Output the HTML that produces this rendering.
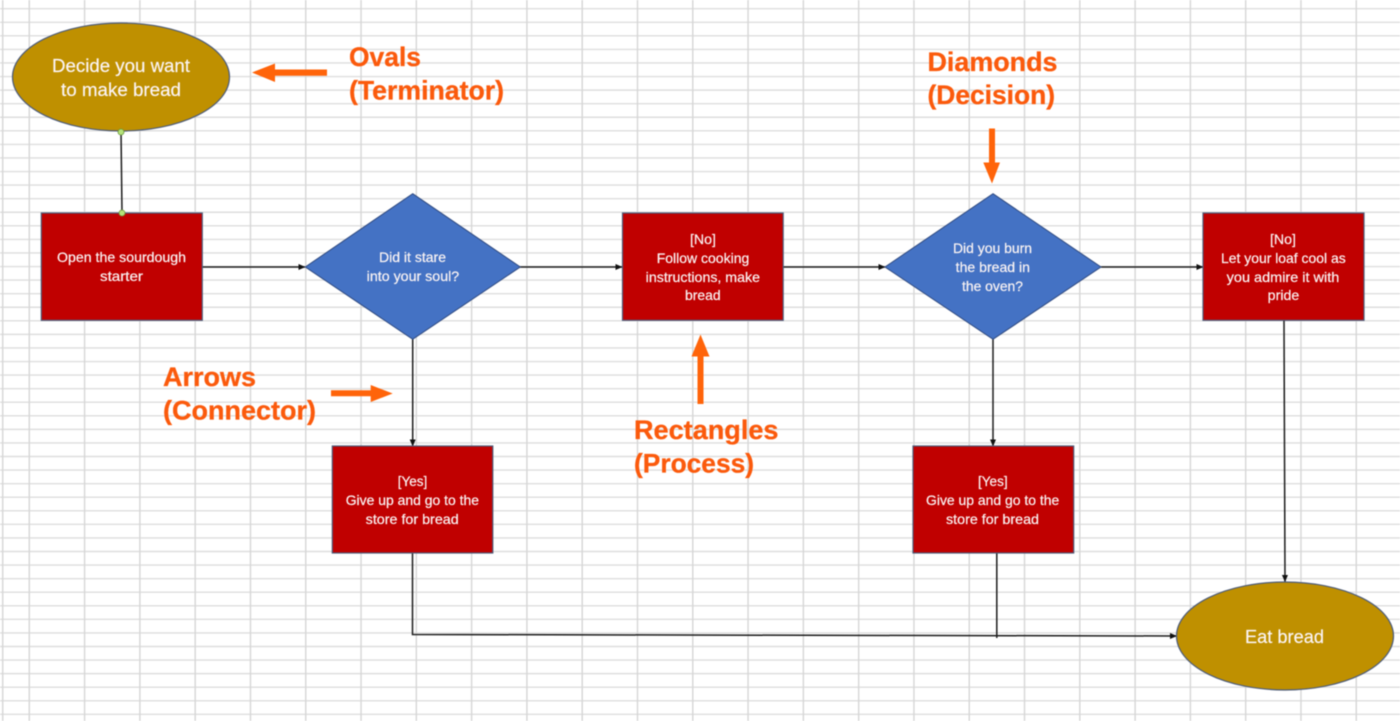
<!DOCTYPE html>
<html lang="en">
<head>
<meta charset="utf-8">
<title>Flowchart</title>
<style>
html,body{margin:0;padding:0;background:#fff;width:1400px;height:721px;overflow:hidden}
svg{display:block;filter:blur(.4px)}
.w{fill:#fbf4f4;stroke:#fbf4f4;stroke-width:.2px;font-family:"Liberation Sans",sans-serif}
.s{font-size:14px}
.l{font-size:18.5px}
.o{fill:#fb5a0c;stroke:#fb5a0c;stroke-width:.3px;font-family:"Liberation Sans",sans-serif;font-weight:bold;font-size:27px}
</style>
</head>
<body>
<svg xmlns="http://www.w3.org/2000/svg" width="1400" height="721" viewBox="0 0 1400 721">
<defs>
<marker id="a" markerWidth="7" markerHeight="6" refX="6.5" refY="3" orient="auto" markerUnits="userSpaceOnUse"><path d="M0 0L7 3L0 6Z" fill="#111"/></marker>
</defs>
<rect width="1400" height="721" fill="#fff"/>
<path fill="none" stroke="#dedede" stroke-width="1.4" d="M0 8.7H1400M0 22.27H1400M0 35.84H1400M0 49.41H1400M0 62.98H1400M0 76.55H1400M0 90.12H1400M0 103.69H1400M0 117.26H1400M0 130.83H1400M0 144.4H1400M0 157.97H1400M0 171.54H1400M0 185.11H1400M0 198.68H1400M0 212.25H1400M0 225.82H1400M0 239.39H1400M0 252.96H1400M0 266.53H1400M0 280.1H1400M0 293.67H1400M0 307.24H1400M0 320.81H1400M0 334.38H1400M0 347.95H1400M0 361.52H1400M0 375.09H1400M0 388.66H1400M0 402.23H1400M0 415.8H1400M0 429.37H1400M0 442.94H1400M0 456.51H1400M0 470.08H1400M0 483.65H1400M0 497.22H1400M0 510.79H1400M0 524.36H1400M0 537.93H1400M0 551.5H1400M0 565.07H1400M0 578.64H1400M0 592.21H1400M0 605.78H1400M0 619.35H1400M0 632.92H1400M0 646.49H1400M0 660.06H1400M0 673.63H1400M0 687.2H1400M0 700.77H1400M0 714.34H1400"/>
<path fill="none" stroke="#d6d6d6" stroke-width="1.4" d="M2.7 0V721M29.3 0V721M84.59 0V721M139.88 0V721M195.17 0V721M250.46 0V721M305.75 0V721M361.04 0V721M416.33 0V721M471.62 0V721M526.91 0V721M582.2 0V721M637.49 0V721M692.78 0V721M748.07 0V721M803.36 0V721M858.65 0V721M913.94 0V721M969.23 0V721M1024.52 0V721M1079.81 0V721M1135.1 0V721M1190.39 0V721M1245.68 0V721M1300.97 0V721M1356.26 0V721"/>

<g fill="none" stroke="#1c1c1c" stroke-width="1.5">
<path d="M121 131L122 213"/>
<path d="M202 267H305" marker-end="url(#a)"/>
<path d="M520 267H622" marker-end="url(#a)"/>
<path d="M783 267H885" marker-end="url(#a)"/>
<path d="M1101 267H1203" marker-end="url(#a)"/>
<path d="M412.7 339V446" marker-end="url(#a)"/>
<path d="M993 339V446" marker-end="url(#a)"/>
<path d="M1284 320L1285 581.5" marker-end="url(#a)"/>
<path d="M412.5 553V634.5L1176.5 636" marker-end="url(#a)"/>
<path d="M996.8 553V638"/>
</g>

<g stroke="#4d5c7a" stroke-width="1.2">
<ellipse cx="121" cy="77" rx="108.5" ry="54" fill="#bf9000"/>
<ellipse cx="1285" cy="636" rx="108.5" ry="54" fill="#bf9000"/>
<rect x="41.3" y="213" width="161" height="107.3" fill="#c00000"/>
<rect x="622.5" y="213" width="160.7" height="107.3" fill="#c00000"/>
<rect x="1203" y="213" width="161" height="107.3" fill="#c00000"/>
<rect x="332.3" y="446" width="160.5" height="107" fill="#c00000"/>
<rect x="913" y="446" width="160.7" height="107" fill="#c00000"/>
</g>
<g stroke="#2f4a80" stroke-width="1" fill="#4472c4">
<path d="M412.7 193.7L520.3 267L412.7 339.3L305.3 267Z"/>
<path d="M993 193.7L1101 267L993 339.3L885 267Z"/>
</g>

<circle cx="121" cy="132" r="3" fill="#b5e27a" stroke="#6a9a3a" stroke-width=".8"/>
<circle cx="122" cy="213" r="3" fill="#b5e27a" stroke="#6a9a3a" stroke-width=".8"/>

<g fill="#ff640a">
<path d="M252 72.5L275 63.5V69.5H327V75.7H275V82Z"/>
<path d="M392.7 393.5L370.7 385V390.3H331V396.3H370.7V402Z"/>
<path d="M992 183.5L983.3 162.5H989V128.5H995V162.5H1000Z"/>
<path d="M700.5 334.5L709.5 356.5H703.5V404H697.5V356.5H691.5Z"/>
</g>

<g class="w l">
<text x="52" y="72" textLength="138" lengthAdjust="spacingAndGlyphs">Decide you want</text>
<text x="61" y="96" textLength="120" lengthAdjust="spacingAndGlyphs">to make bread</text>
<text x="1245" y="643" textLength="79" lengthAdjust="spacingAndGlyphs">Eat bread</text>
</g>
<g class="w s">
<text x="57" y="262" textLength="129" lengthAdjust="spacingAndGlyphs">Open the sourdough</text>
<text x="100" y="281" textLength="43" lengthAdjust="spacingAndGlyphs">starter</text>

<text x="379" y="262" textLength="67" lengthAdjust="spacingAndGlyphs">Did it stare</text>
<text x="366.7" y="281" textLength="92.5" lengthAdjust="spacingAndGlyphs">into your soul?</text>

<text x="690" y="244" textLength="26" lengthAdjust="spacingAndGlyphs">[No]</text>
<text x="656.7" y="263" textLength="92.6" lengthAdjust="spacingAndGlyphs">Follow cooking</text>
<text x="645.7" y="282" textLength="114.3" lengthAdjust="spacingAndGlyphs">instructions, make</text>
<text x="685" y="300" textLength="35.7" lengthAdjust="spacingAndGlyphs">bread</text>

<text x="953" y="253" textLength="79" lengthAdjust="spacingAndGlyphs">Did you burn</text>
<text x="955.7" y="272" textLength="74.3" lengthAdjust="spacingAndGlyphs">the bread in</text>
<text x="962" y="291" textLength="61" lengthAdjust="spacingAndGlyphs">the oven?</text>

<text x="1270" y="244" textLength="26" lengthAdjust="spacingAndGlyphs">[No]</text>
<text x="1221" y="263" textLength="124.7" lengthAdjust="spacingAndGlyphs">Let your loaf cool as</text>
<text x="1226.7" y="282" textLength="112.6" lengthAdjust="spacingAndGlyphs">you admire it with</text>
<text x="1267.7" y="300" textLength="31.6" lengthAdjust="spacingAndGlyphs">pride</text>

<text x="397.7" y="486" textLength="29.6" lengthAdjust="spacingAndGlyphs">[Yes]</text>
<text x="345.7" y="505" textLength="133.3" lengthAdjust="spacingAndGlyphs">Give up and go to the</text>
<text x="365.7" y="524" textLength="93" lengthAdjust="spacingAndGlyphs">store for bread</text>

<text x="978" y="486" textLength="29.6" lengthAdjust="spacingAndGlyphs">[Yes]</text>
<text x="926" y="505" textLength="133.3" lengthAdjust="spacingAndGlyphs">Give up and go to the</text>
<text x="946" y="524" textLength="93" lengthAdjust="spacingAndGlyphs">store for bread</text>
</g>

<g class="o">
<text x="349" y="66" textLength="72" lengthAdjust="spacingAndGlyphs">Ovals</text>
<text x="349" y="99.5" textLength="155" lengthAdjust="spacingAndGlyphs">(Terminator)</text>
<text x="927.5" y="71" textLength="130" lengthAdjust="spacingAndGlyphs">Diamonds</text>
<text x="927.5" y="104" textLength="127.5" lengthAdjust="spacingAndGlyphs">(Decision)</text>
<text x="163" y="386" textLength="93" lengthAdjust="spacingAndGlyphs">Arrows</text>
<text x="163" y="419.5" textLength="153" lengthAdjust="spacingAndGlyphs">(Connector)</text>
<text x="634" y="439" textLength="144.5" lengthAdjust="spacingAndGlyphs">Rectangles</text>
<text x="634" y="472.5" textLength="120" lengthAdjust="spacingAndGlyphs">(Process)</text>
</g>
</svg>
</body>
</html>
